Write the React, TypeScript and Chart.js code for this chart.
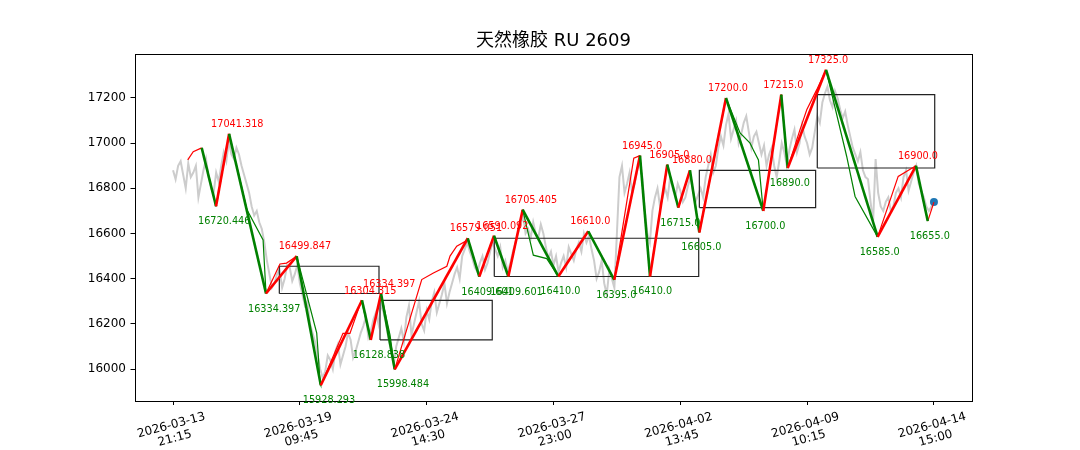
import React, { useEffect, useRef } from 'react';
import { Chart, registerables } from 'chart.js';

Chart.register(...registerables);

const TITLE = '天然橡胶 RU 2609';

// x axis: bar index positions and their date labels
const xTickIdx = [0, 100, 200, 300, 400, 500, 600];
const xTickLabels = [
  ['2026-03-13', '21:15'],
  ['2026-03-19', '09:45'],
  ['2026-03-24', '14:30'],
  ['2026-03-27', '23:00'],
  ['2026-04-02', '13:45'],
  ['2026-04-09', '10:15'],
  ['2026-04-14', '15:00'],
];
const yTicks = [16000, 16200, 16400, 16600, 16800, 17000, 17200];

// price (gray) sampled every 2 bars
const priceStep = 2;
const priceValues = [
  16880, 16840, 16900, 16920, 16860, 16800, 16910, 16850, 16870, 16900,
  16760, 16820, 16880, 16930, 16850, 16800, 16780, 16870, 16830, 16900,
  16960, 16920, 17010, 16950, 16930, 16980, 16950, 16900, 16860, 16820,
  16780, 16720, 16680, 16700, 16650, 16620, 16560, 16480, 16420, 16360,
  16380, 16420, 16440, 16360, 16400, 16460, 16450, 16390, 16420, 16460,
  16380, 16330, 16280, 16300, 16200, 16160, 16120, 16060, 16000, 15960,
  15990, 16060, 16040, 16000, 16080, 16110, 16020, 16060, 16100, 16160,
  16130, 16050, 16080, 16120, 16160, 16190, 16230, 16140, 16170, 16220,
  16250, 16200, 16290, 16250, 16200, 16130, 16080, 16020, 16100, 16140,
  16180, 16120, 16230, 16280, 16150, 16200, 16250, 16300, 16200, 16170,
  16260, 16220, 16300, 16340, 16250, 16290, 16330, 16380, 16290, 16340,
  16380, 16420, 16450, 16400, 16500, 16530, 16560, 16520, 16490, 16450,
  16430, 16470, 16500, 16440, 16470, 16520, 16560, 16530, 16500, 16540,
  16450, 16480, 16430, 16470, 16520, 16560, 16600, 16640, 16680, 16600,
  16620, 16580, 16650, 16600, 16580, 16640, 16600, 16540, 16490, 16520,
  16460, 16500, 16430, 16470, 16500, 16450, 16540, 16510, 16480, 16530,
  16560, 16520, 16600, 16560, 16590, 16530, 16480, 16400, 16430, 16480,
  16380, 16330, 16440, 16400, 16360, 16600, 16850, 16900, 16780, 16820,
  16870, 16780, 16820, 16880, 16920, 16850, 16700, 16600, 16560, 16700,
  16760, 16800, 16720, 16760, 16800, 16760, 16850, 16800, 16760, 16820,
  16790, 16740, 16760, 16810, 16850, 16790, 16740, 16770, 16800, 16760,
  16850, 16900, 16950, 16870, 16900, 16980, 17030, 16990, 17080, 17130,
  17020, 17060, 17100, 17000, 17040, 17090, 17120, 17050, 16980, 17030,
  17050, 17000, 16950, 16990, 16900, 16950, 16980, 16900, 16850, 16920,
  17000, 16960, 16900, 16970, 17020, 17060, 16960, 17000, 17080, 17030,
  17000, 16950, 16980, 17050, 17120, 17090, 17180, 17220, 17250, 17190,
  17160, 17230, 17200, 17150, 17110, 17140, 17080, 17030, 16980, 16950,
  16920, 16960, 16880, 16850, 16840, 16740, 16650, 16930, 16780, 16720,
  16700, 16740, 16760, 16700, 16720, 16780, 16800, 16760, 16850, 16880,
  16790, 16830, 16870, 16900, 16820, 16790, 16760, 16720, 16700, 16720,
  16740,
];

// main (thick) zigzag pivots
const pivotIdx = [
  22.6, 33.9, 44.2, 73.3, 97.5, 116.5, 149.0, 155.9, 164.0, 174.8,
  232.4, 241.5, 253.1, 264.4, 275.7, 303.8, 327.4, 347.9, 368.2, 376.1,
  389.7, 398.4, 407.6, 415.0, 436.0, 465.4, 479.6, 484.7, 514.9, 555.6,
  585.8, 595.1,
];
const pivotVal = [
  16979, 16720.446, 17041.318, 16334.397, 16499.847, 15928.293, 16304.315, 16128.838, 16334.397, 15998.484,
  16579.051, 16409.601, 16590.092, 16409.601, 16705.405, 16410.0, 16610.0, 16395.0, 16945.0, 16410.0,
  16905.0, 16715.0, 16880.0, 16605.0, 17200.0, 16700.0, 17215.0, 16890.0, 17325.0, 16585.0,
  16900.0, 16655.0,
];
const pivotLabeled = pivotVal.map((_, i) => i > 0);

// secondary (thin) zigzag
const thinIdx = [
  11.6, 15.9, 22.6, 33.9, 44.2, 58.3, 71.0, 73.3, 84.3, 89.5,
  97.5, 113.3, 114.5, 115.9, 116.5, 131.7, 134.0, 139.5, 148.6, 155.9,
  164.0, 171.1, 174.8, 196.1, 205.3, 215.9, 218.4, 223.7, 231.6, 232.4,
  241.5, 253.1, 264.4, 275.7, 284.1, 294.7, 303.8, 327.4, 347.9, 363.3,
  368.2, 376.1, 389.7, 398.4, 407.6, 415.0, 436.0, 447.1, 455.0, 457.6,
  461.6, 465.4, 479.6, 484.7, 494.4, 499.7, 507.6, 514.9, 531.2, 537.8,
  555.6, 571.8, 585.8, 595.1, 600,
];
const thinVal = [
  16926, 16962, 16979, 16720.446, 17041.318, 16705, 16572, 16334.397, 16465, 16469,
  16499.847, 16159, 16063, 15938, 15928.293, 16127, 16158, 16158, 16304.315, 16128.838,
  16334.397, 16150, 15998.484, 16396, 16425, 16455, 16500, 16544, 16569, 16579.051,
  16409.601, 16590.092, 16409.601, 16705.405, 16504, 16489, 16410, 16610, 16395, 16934,
  16945, 16410, 16905, 16715, 16880, 16605, 17200, 17045, 17000, 16970,
  16926, 16700, 17215, 16890, 17060, 17148, 17237, 17325, 16941, 16764,
  16585, 16853, 16900, 16655, 16739,
];

// consolidation boxes
const boxStart = [83.8, 163.2, 253.3, 415.0, 508.0];
const boxEnd = [162.4, 251.7, 414.5, 506.7, 600.6];
const boxLow = [16334.397, 16128.838, 16409.601, 16715.0, 16890.0];
const boxHigh = [16455.0, 16304.315, 16579.051, 16880.0, 17215.0];

const lastIdx = 600;
const lastPrice = 16739;

const UP = '#ff0000';
const DOWN = '#008000';
const FONT = '"DejaVu Sans", "Noto Sans CJK SC", sans-serif';

const fmt = (v: number) => (Number.isInteger(v) ? v.toFixed(1) : String(v));

const overlay = {
  id: 'overlay',
  afterDatasetsDraw(chart: any) {
    const { ctx, chartArea: a, scales } = chart;
    const xs = scales.x;
    const ys = scales.y;
    ctx.save();
    // frame
    ctx.strokeStyle = '#000';
    ctx.lineWidth = 1;
    ctx.strokeRect(Math.round(a.left) + 0.5, Math.round(a.top) + 0.5, Math.round(a.right - a.left), Math.round(a.bottom - a.top));
    // pivot labels
    ctx.font = `9.7px ${FONT}`;
    ctx.textAlign = 'left';
    ctx.textBaseline = 'middle';
    const n = pivotVal.length;
    for (let i = 0; i < n; i++) {
      if (!pivotLabeled[i]) continue;
      const v = pivotVal[i];
      const isHigh = i < n - 1 ? v > pivotVal[i + 1] : v > pivotVal[i - 1];
      const px = xs.getPixelForValue(pivotIdx[i]);
      const py = ys.getPixelForValue(v);
      ctx.fillStyle = isHigh ? UP : DOWN;
      ctx.fillText(fmt(v), px - 18, isHigh ? py - 9.3 : py + 15.5);
    }
    ctx.restore();
  },
  afterDraw(chart: any) {
    const { ctx, chartArea: a, scales } = chart;
    const xs = scales.x;
    ctx.save();
    // title
    ctx.fillStyle = '#000';
    ctx.font = `18px ${FONT}`;
    ctx.textAlign = 'center';
    ctx.textBaseline = 'middle';
    ctx.fillText(TITLE, (a.left + a.right) / 2, 41.5);
    // x tick labels, rotated
    ctx.font = `12px ${FONT}`;
    const ang = (-15 * Math.PI) / 180;
    xTickIdx.forEach((t, i) => {
      const px = xs.getPixelForValue(t);
      ctx.save();
      ctx.translate(px, 432);
      ctx.rotate(ang);
      ctx.fillText(xTickLabels[i][0], 0, -6.7);
      ctx.fillText(xTickLabels[i][1], 0, 6.7);
      ctx.restore();
    });
    ctx.restore();
  },
};

export default function App() {
  const ref = useRef<HTMLCanvasElement | null>(null);
  useEffect(() => {
    document.body.style.margin = '0';
    const canvas = ref.current;
    if (!canvas) return;
    const price = priceValues.map((v, i) => ({ x: i * priceStep, y: v }));
    const thick = pivotIdx.map((x, i) => ({ x, y: pivotVal[i] }));
    const thin = thinIdx.map((x, i) => ({ x, y: thinVal[i] }));
    const segColor = (c: any) => (c.p1.parsed.y >= c.p0.parsed.y ? UP : DOWN);
    const boxSets = boxStart.map((x0, i) => ({
      type: 'line',
      data: [
        { x: x0, y: boxLow[i] },
        { x: boxEnd[i], y: boxLow[i] },
        { x: boxEnd[i], y: boxHigh[i] },
        { x: x0, y: boxHigh[i] },
        { x: x0, y: boxLow[i] },
      ],
      borderColor: '#222',
      borderWidth: 1.2,
      pointRadius: 0,
      tension: 0,
      fill: false,
      order: 9,
    }));
    const chart = new Chart(canvas, {
      type: 'line',
      data: {
        datasets: [
          {
            data: thick,
            borderWidth: 2.6,
            borderColor: UP,
            segment: { borderColor: segColor },
            pointRadius: 0,
            tension: 0,
            fill: false,
            order: 3,
          },
          {
            data: thin,
            borderWidth: 1.2,
            borderColor: UP,
            segment: { borderColor: segColor },
            pointRadius: 0,
            tension: 0,
            fill: false,
            order: 4,
          },
          {
            data: [{ x: lastIdx, y: lastPrice }],
            showLine: false,
            pointRadius: 4,
            pointBackgroundColor: '#1f77b4',
            pointBorderWidth: 0,
            borderColor: '#1f77b4',
            order: 5,
          },
          ...boxSets,
          {
            data: price,
            borderColor: '#cccccc',
            borderWidth: 2,
            pointRadius: 0,
            tension: 0,
            fill: false,
            order: 10,
          },
        ] as any,
      },
      options: {
        responsive: false,
        animation: false,
        devicePixelRatio: 1,
        layout: { padding: { left: 0, right: 108, top: 54, bottom: 0 } },
        plugins: {
          legend: { display: false },
          tooltip: { enabled: false },
          title: { display: false },
        },
        scales: {
          x: {
            type: 'linear',
            min: -30,
            max: 630,
            afterBuildTicks: (s: any) => {
              s.ticks = xTickIdx.map((v) => ({ value: v }));
            },
            afterFit: (s: any) => {
              s.height = 49;
            },
            ticks: { display: false },
            grid: { display: true, drawOnChartArea: false, drawTicks: true, tickLength: 4, color: '#000', lineWidth: 1 },
            border: { display: false },
          },
          y: {
            type: 'linear',
            min: 15858.5,
            max: 17394.8,
            afterBuildTicks: (s: any) => {
              s.ticks = yTicks.map((v) => ({ value: v }));
            },
            afterFit: (s: any) => {
              s.width = 135;
            },
            ticks: {
              color: '#000',
              padding: 4.5,
              font: { family: FONT, size: 12 },
              callback: (v: any) => String(v),
            },
            grid: { display: true, drawOnChartArea: false, drawTicks: true, tickLength: 4.5, color: '#000', lineWidth: 1 },
            border: { display: false },
          },
        },
      } as any,
      plugins: [overlay],
    });
    return () => chart.destroy();
  }, []);
  return <canvas ref={ref} width={1080} height={450} style={{ display: 'block' }} />;
}
